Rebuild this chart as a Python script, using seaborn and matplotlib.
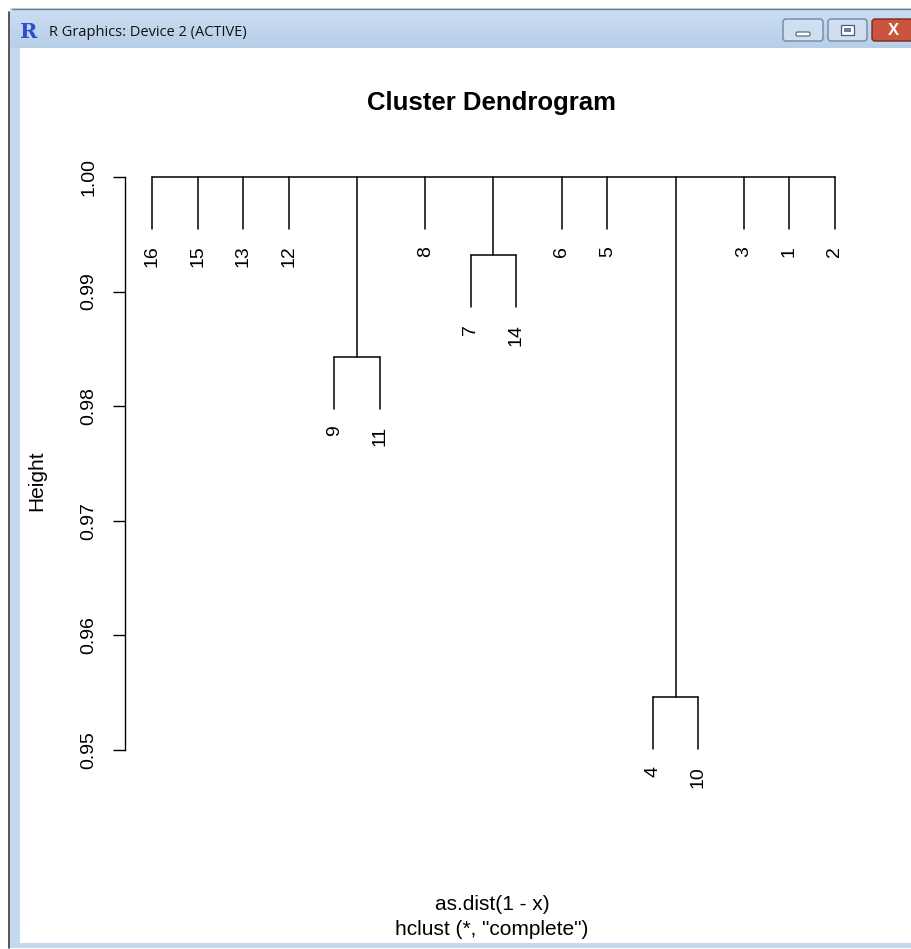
import numpy as np
import pandas as pd
import matplotlib
matplotlib.use("Agg")
import matplotlib.pyplot as plt
from matplotlib.patches import Rectangle, FancyBboxPatch
import seaborn as sns

# ---- data -------------------------------------------------------------
leaf_order = ["16", "15", "13", "12", "9", "11", "8", "7", "14",
              "6", "5", "4", "10", "3", "1", "2"]
pair_left = ["9", "7", "4"]
pair_right = ["11", "14", "10"]
pair_height = [0.9843, 0.9932, 0.9546]
root_height = 1.00
y_ticks = [0.95, 0.96, 0.97, 0.98, 0.99, 1.00]
y_tick_labels = ["0.95", "0.96", "0.97", "0.98", "0.99", "1.00"]

# ---- dendrogram segments ---------------------------------------------
xpos = {lab: i + 1 for i, lab in enumerate(leaf_order)}
all_heights = pair_height + [root_height]
hang = 0.1 * (max(all_heights) - min(all_heights))

segs = []
leaf_ends = {}


def add(x0, y0, x1, y1):
    sid = len(segs)
    segs.append((sid, x0, y0))
    segs.append((sid, x1, y1))


paired = set(pair_left) | set(pair_right)
root_children_x = []
for a, b, h in zip(pair_left, pair_right, pair_height):
    xa, xb = xpos[a], xpos[b]
    add(xa, h, xb, h)
    for lab, xl in ((a, xa), (b, xb)):
        add(xl, h, xl, h - hang)
        leaf_ends[lab] = h - hang
    mid = (xa + xb) / 2
    add(mid, h, mid, root_height)
    root_children_x.append(mid)
for lab in leaf_order:
    if lab not in paired:
        xl = xpos[lab]
        add(xl, root_height, xl, root_height - hang)
        leaf_ends[lab] = root_height - hang
        root_children_x.append(xl)
add(min(root_children_x), root_height, max(root_children_x), root_height)

df = pd.DataFrame(segs, columns=["seg", "x", "y"])

# ---- figure -----------------------------------------------------------
W, H = 912, 949
sns.set_style("white")
plt.rcParams["font.family"] = ["Liberation Sans", "DejaVu Sans"]
plt.rcParams["text.color"] = "black"
plt.rcParams["axes.labelcolor"] = "black"
plt.rcParams["ytick.color"] = "black"
plt.rcParams["xtick.color"] = "black"
fig = plt.figure(figsize=(W / 100, H / 100), dpi=100)
fig.patch.set_facecolor("white")

# window frame
chrome = fig.add_axes([0, 0, 1, 1], zorder=0)
chrome.set_xlim(0, W)
chrome.set_ylim(H, 0)
chrome.axis("off")
frame_blue = "#c4d8ee"
chrome.add_patch(Rectangle((10, 8), W - 10, 940, color=frame_blue, lw=0))
grad = np.linspace(0, 1, 40)[:, None, None]
top_c = np.array([0.80, 0.87, 0.95])
bot_c = np.array([0.72, 0.81, 0.91])
chrome.imshow(top_c * (1 - grad) + bot_c * grad, extent=[10, W, 48, 8],
              aspect="auto", zorder=1)
chrome.add_patch(Rectangle((20, 48), W - 20, 895, color="white", lw=0, zorder=2))
chrome.plot([9.5, 9.5], [12, 948], color="#3a3a3a", lw=1.2, zorder=3)
chrome.plot([12, W], [8.5, 8.5], color="#6d7f95", lw=1.0, zorder=3)
chrome.text(20, 32, "R", fontsize=15, fontweight="bold", family="DejaVu Serif",
            color="#2b4fd0", va="center", ha="left", zorder=4)
chrome.text(49, 32, "R Graphics: Device 2 (ACTIVE)", fontsize=10.5,
            family="Open Sans", color="#111111", va="center", ha="left", zorder=4)
for x0, w, fc, ec in ((783, 40, "#cfdff0", "#6f87a6"),
                      (828, 39, "#cfdff0", "#6f87a6"),
                      (872, 44, "#c9553f", "#7a2a1c")):
    chrome.add_patch(FancyBboxPatch((x0, 19), w, 22, boxstyle="round,pad=0,rounding_size=3",
                                    fc=fc, ec=ec, lw=1, zorder=4))
chrome.add_patch(FancyBboxPatch((796, 32), 14, 4, boxstyle="round,pad=0,rounding_size=1.5",
                                fc="white", ec="#4b5d75", lw=0.8, zorder=5))
chrome.add_patch(Rectangle((841, 25), 13, 10, fc="white", ec="#4b5d75", lw=0.9, zorder=5))
chrome.add_patch(Rectangle((844, 28), 7, 4, fc="#6a7f9c", lw=0, zorder=6))
chrome.text(893, 30, "X", fontsize=12, fontweight="bold", color="white",
            ha="center", va="center", zorder=5)

# plot region (R-style: data range expanded by 4%)
xl0, xl1 = 0.4, 16.6
yl0, yl1 = 0.948, 1.002
px_left, px_right = 124.7, 862.3
px_top, px_bot = 154.1, 772.9
ax = fig.add_axes([px_left / W, 1 - px_bot / H,
                   (px_right - px_left) / W, (px_bot - px_top) / H], zorder=5)
ax.set_facecolor("none")
sns.lineplot(data=df, x="x", y="y", units="seg", estimator=None, sort=False,
             color="black", lw=1.1, ax=ax, legend=False)
ax.set_xlim(xl0, xl1)
ax.set_ylim(yl0, yl1)

for sp in ("top", "right", "bottom"):
    ax.spines[sp].set_visible(False)
ax.spines["left"].set_bounds(y_ticks[0], y_ticks[-1])
ax.spines["left"].set_color("black")
ax.spines["left"].set_linewidth(1.0)
ax.set_xticks([])
ax.set_yticks(y_ticks)
ax.set_yticklabels(y_tick_labels)
ax.tick_params(axis="y", direction="out", length=8.5, width=1.0, color="black",
               pad=11, labelsize=14, labelcolor="black", left=True)
for t in ax.get_yticklabels():
    t.set_rotation(90)
    t.set_va("center")

for lab in leaf_order:
    ax.annotate(lab, xy=(xpos[lab], leaf_ends[lab]), xytext=(0, -12),
                textcoords="offset points", rotation=90, ha="center", va="top",
                fontsize=14, color="black", annotation_clip=False)

ax.set_xlabel("")
ax.set_ylabel("")
fig.text(492 / W, 1 - 110 / H, "Cluster Dendrogram", ha="center", va="baseline",
         fontsize=18.5, fontweight="bold", color="black")
fig.text(37 / W, 1 - 481 / H, "Height", rotation=90, ha="center", va="center",
         fontsize=15, color="black")
fig.text(492 / W, 1 - 910 / H, "as.dist(1 - x)", ha="center", va="baseline",
         fontsize=15, color="black")
fig.text(492 / W, 1 - 935 / H, 'hclust (*, "complete")', ha="center",
         va="baseline", fontsize=15, color="black")

fig.savefig("out.png", dpi=100)
